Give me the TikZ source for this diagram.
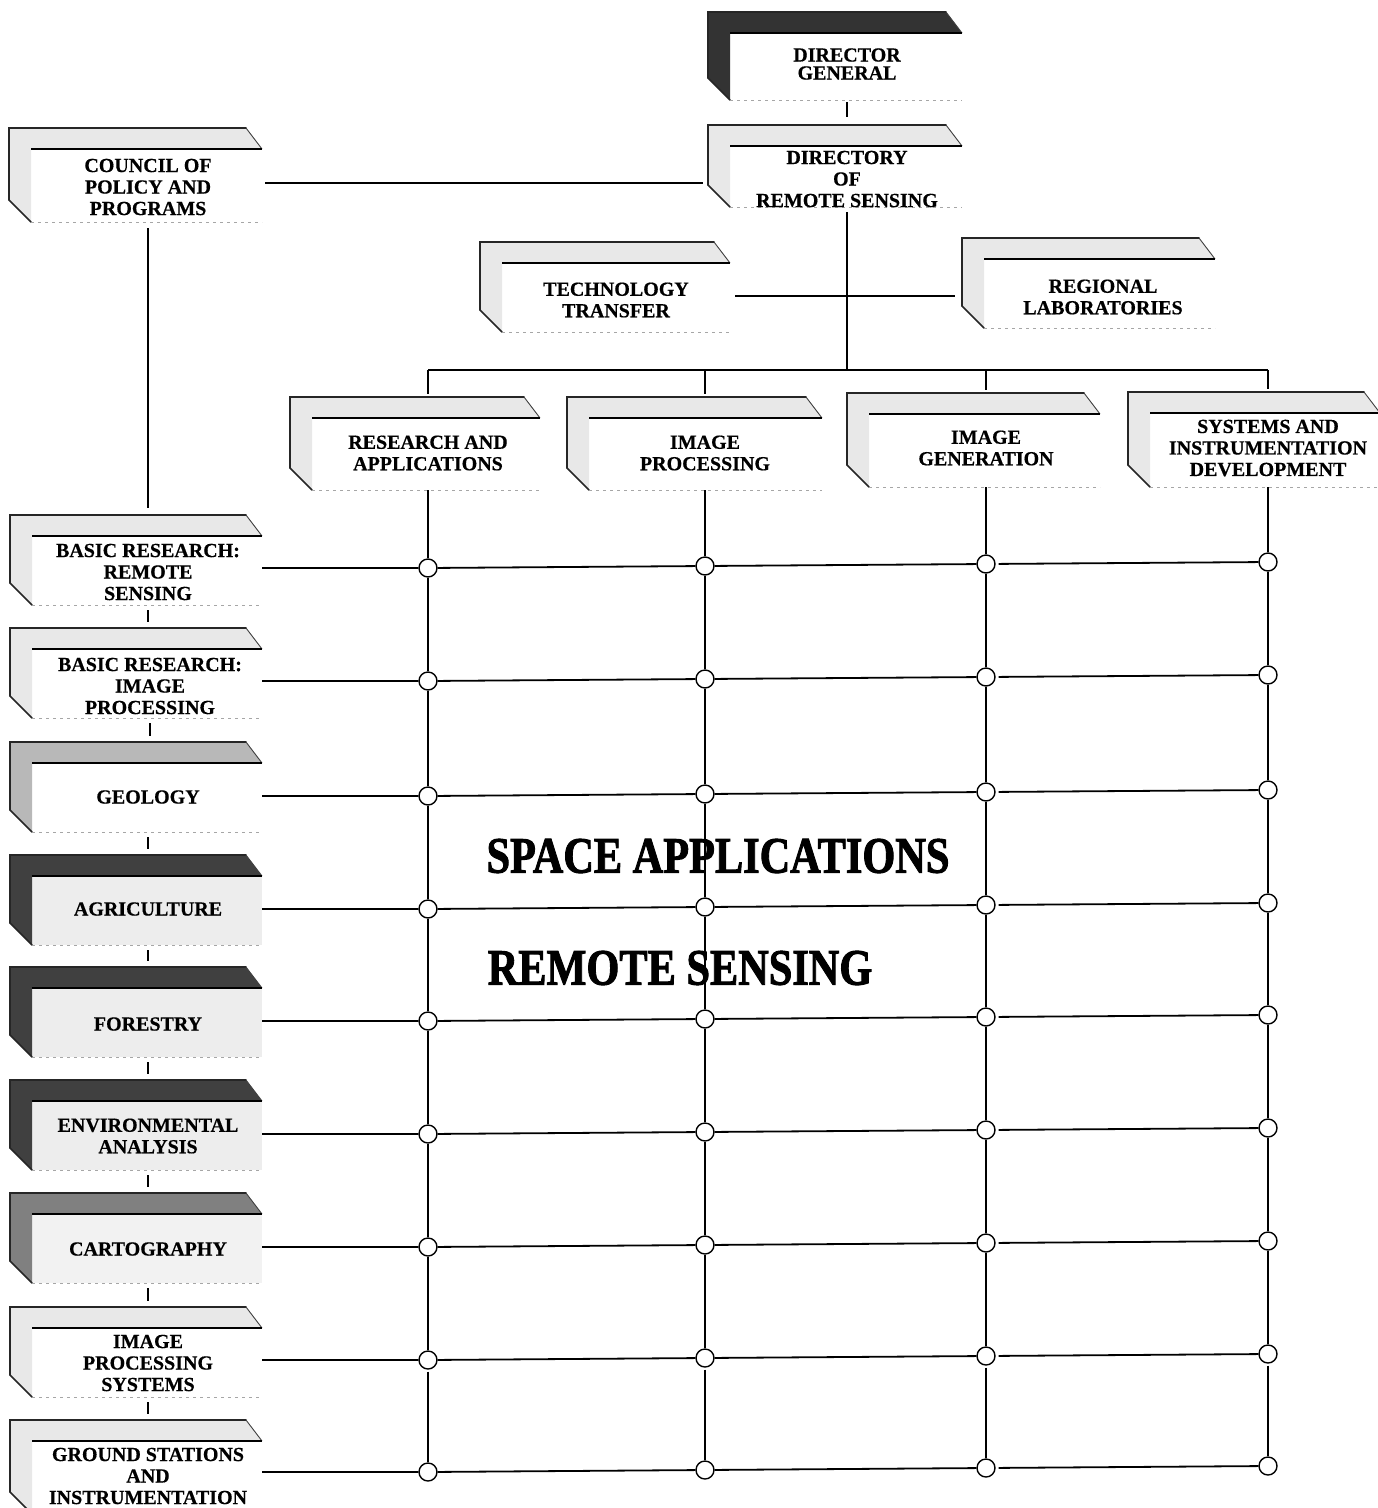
\documentclass[tikz,border=0pt]{standalone}
\usepackage{fontspec}
\setmainfont{Liberation Serif}[BoldFeatures={FakeBold=0.5}]
\newfontfamily\heavyfont{Liberation Serif}[BoldFeatures={FakeBold=2}]
\usepackage{graphicx}
% #1 name, #2 x0, #3 y0, #4 x1, #5 y1, #6 shade style, #7 text x, #8 text y, #9 text
\newcommand\obox[9]{%
  \fill[#6 front] ({#2+22},{#3+21}) rectangle (#4,#5);
  \fill[#6] (#2,#3) -- ({#4-16},#3) -- (#4,{#3+21}) -- ({#2+22},{#3+21}) -- ({#2+22},#5) -- (#2,{#5-22}) -- cycle;
  \draw[outeredge] (#2,{#5-22}) -- (#2,#3) -- ({#4-16},#3);
  \draw[slantedge] ({#4-16},#3) -- (#4,{#3+21});
  \draw[inneredge] ({#2+22},{#3+21}) -- (#4,{#3+21});
  \draw[outeredge] (#2,{#5-22}) -- ({#2+22},#5);
  \draw[botedge] ({#2+22},#5) -- (#4,#5);
  \node[outerbox, minimum width={#4-#2}, minimum height={#5-#3}] (#1) at ({(#2+#4)/2},{(#3+#5)/2}) {};
  \node[boxtext] (#1-t) at (#7,#8) {#9};
}
\begin{document}
\begin{tikzpicture}[x=1pt,y=-1pt,
  outeredge/.style={line width=1.6pt, black!85, line cap=round},
  slantedge/.style={line width=0.9pt, black!75},
  inneredge/.style={line width=1.2pt, black},
  botedge/.style={line width=0.6pt, black!35, dash pattern=on 3pt off 4pt},
  boxtext/.style={font=\fontsize{20}{21.5}\selectfont\bfseries, align=center, inner sep=0pt},
  bigtext/.style={font=\heavyfont\fontsize{51}{51}\selectfont\bfseries, inner sep=0pt},
  outerbox/.style={inner sep=0pt, draw=none},
  junction/.style={circle, draw, fill=white, line width=1.4pt, minimum size=18pt, inner sep=0pt},
  link/.style={line width=1.8pt},
  shadeL/.style={fill=black!9}, shadeL front/.style={fill=white},
  shadeM/.style={fill=black!28}, shadeM front/.style={fill=white},
  shadeC/.style={fill=black!50}, shadeC front/.style={fill=black!5},
  shadeD/.style={fill=black!75}, shadeD front/.style={fill=black!7},
  shadeG/.style={fill=black!80}, shadeG front/.style={fill=white}
]
\useasboundingbox[fill=white] (0,0) rectangle (1377,1508);

% top hierarchy
\begin{scope}[boxtext/.append style={font=\fontsize{20}{18}\selectfont\bfseries}]
\obox{dg}{708}{12}{962}{100}{shadeG}{847}{64}{DIRECTOR\\GENERAL}
\end{scope}
\obox{drs}{708}{125}{962}{207}{shadeL}{847}{179}{DIRECTORY\\OF\\REMOTE SENSING}
\obox{cpp}{9}{128}{262}{222}{shadeL}{148}{187}{COUNCIL OF\\POLICY AND\\PROGRAMS}
\obox{tt}{480}{242}{730}{332}{shadeL}{616}{300}{TECHNOLOGY\\TRANSFER}
\obox{rl}{962}{238}{1215}{328}{shadeL}{1103}{297}{REGIONAL\\LABORATORIES}

% column heads
\obox{ra}{290}{397}{540}{490}{shadeL}{428}{453}{RESEARCH AND\\APPLICATIONS}
\obox{ip}{567}{397}{822}{490}{shadeL}{705}{453}{IMAGE\\PROCESSING}
\obox{ig}{847}{393}{1100}{487}{shadeL}{986}{448}{IMAGE\\GENERATION}
\obox{sid}{1128}{392}{1380}{487}{shadeL}{1268}{448}{SYSTEMS AND\\INSTRUMENTATION\\DEVELOPMENT}

% row heads
\obox{b1}{10}{515}{262}{605}{shadeL}{148}{572}{BASIC RESEARCH:\\REMOTE\\SENSING}
\obox{b2}{10}{628}{262}{718}{shadeL}{150}{686}{BASIC RESEARCH:\\IMAGE\\PROCESSING}
\obox{b3}{10}{742}{262}{832}{shadeM}{148}{797}{GEOLOGY}
\obox{b4}{10}{855}{262}{945}{shadeD}{148}{909}{AGRICULTURE}
\obox{b5}{10}{967}{262}{1057}{shadeD}{148}{1024}{FORESTRY}
\obox{b6}{10}{1080}{262}{1170}{shadeD}{148}{1136}{ENVIRONMENTAL\\ANALYSIS}
\obox{b7}{10}{1193}{262}{1283}{shadeC}{148}{1249}{CARTOGRAPHY}
\obox{b8}{10}{1307}{262}{1397}{shadeL}{148}{1363}{IMAGE\\PROCESSING\\SYSTEMS}
\obox{b9}{10}{1420}{262}{1514}{shadeL}{148}{1476}{GROUND STATIONS\\AND\\INSTRUMENTATION}

% junctions
\foreach \r/\y in {1/568,2/681,3/796,4/909,5/1021,6/1134,7/1247,8/1360,9/1472}{
  \foreach \c/\x/\o in {1/428/0,2/705/-2,3/986/-4,4/1268/-6}{
    \node[junction] (c\r\c) at (\x,{\y+\o}) {};
  }
}

% hierarchy connectors
\draw[link, shorten <=2pt, shorten >=8pt] (dg-t |- dg.south) -- (dg-t |- drs.north);
\draw[link, shorten <=3pt, shorten >=5pt] (cpp.east |- 0,183) -- (drs.west |- 0,183);
\draw[link, shorten <=6pt, shorten >=7pt] (cpp-t |- cpp.south) -- (cpp-t |- b1.north);
\draw[link, shorten <=5pt] (drs-t |- drs.south) -- (drs-t |- 0,370);
\draw[link, shorten <=5pt, shorten >=7pt] (tt.east |- 0,296) -- (rl.west |- 0,296);
\draw[link] (ra-t |- 0,370) -- (sid-t |- 0,370);
\foreach \n in {ra,ip,ig,sid}{
  \draw[link, shorten >=3pt] (\n-t |- 0,370) -- (\n-t |- \n.north);
}
\foreach \i/\j in {1/2,2/3,3/4,4/5,5/6,6/7,7/8,8/9}{
  \draw[link, shorten <=5pt, shorten >=6pt] (b\i-t |- b\i.south) -- (b\i-t |- b\j.north);
}

% grid
\foreach \c/\n in {1/ra,2/ip,3/ig,4/sid}{
  \draw[link, shorten <=2pt] (\n-t |- \n.south) -- (c1\c) -- (c2\c) -- (c3\c) -- (c4\c) -- (c5\c) -- (c6\c) -- (c7\c) -- (c8\c) -- (c9\c);
}
\foreach \r in {1,...,9}{
  \draw[link, shorten <=3pt] (b\r.east |- c\r1) -- (c\r1) -- (c\r2) -- (c\r3) -- (c\r4);
}

% titles
\node[bigtext] (sa) at (718,856) {\scalebox{0.83}[1]{SPACE APPLICATIONS}};
\node[bigtext] (rs) at (680,968) {\scalebox{0.83}[1]{REMOTE SENSING}};
\end{tikzpicture}
\end{document}
